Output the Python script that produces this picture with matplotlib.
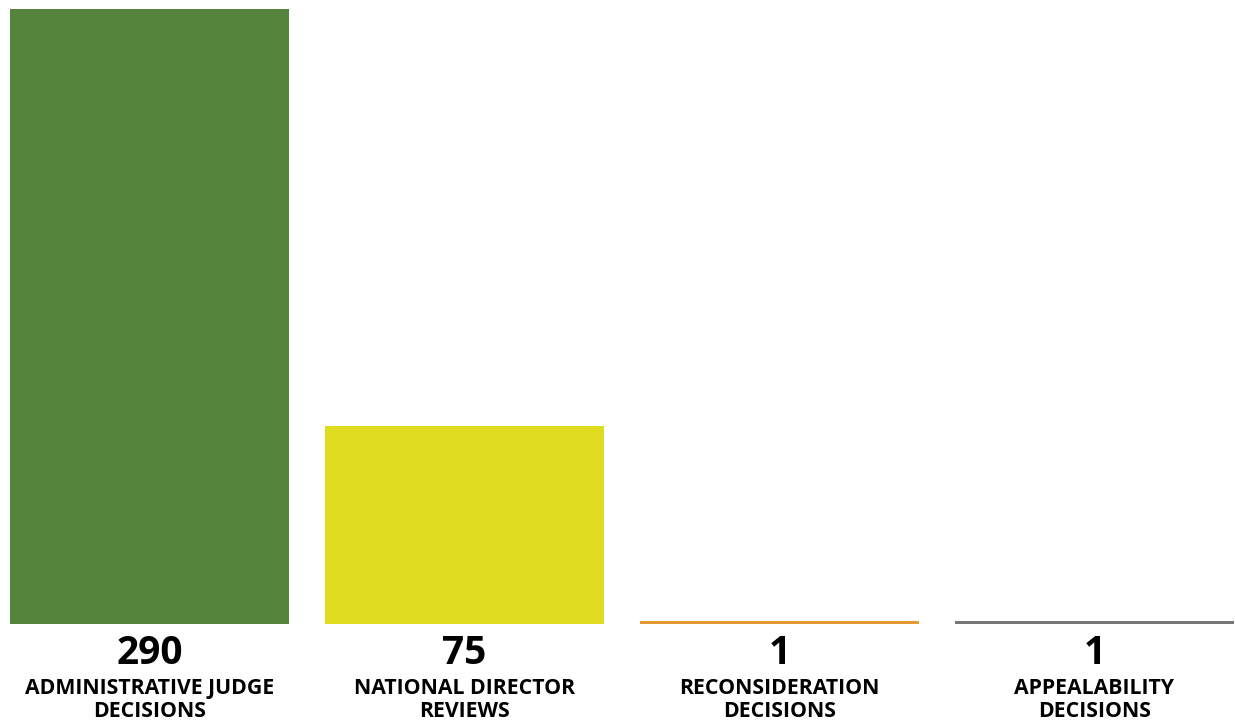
import matplotlib
matplotlib.use("Agg")
import matplotlib.pyplot as plt
import matplotlib.transforms as mtransforms

# counts shown under each bar
categories = ["ADMINISTRATIVE JUDGE\nDECISIONS", "NATIONAL DIRECTOR\nREVIEWS",
              "RECONSIDERATION\nDECISIONS", "APPEALABILITY\nDECISIONS"]
count_labels = ["290", "75", "1", "1"]
# bar heights as drawn in the picture (same scale as the 290 bar)
bar_heights = [290, 93.4, 1.4, 1.4]
colors = ["#55853d", "#dfdc20", "#e39a32", "#767676"]

plt.rcParams['font.family'] = ['Open Sans', 'DejaVu Sans']

fig = plt.figure(figsize=(12.35, 7.21), dpi=100)
ax = fig.add_axes([10 / 1235, 97 / 721, 1224 / 1235, 615 / 721])

x = list(range(len(bar_heights)))
width = 279 / 315
ax.bar(x, bar_heights, width=width, color=colors)
ax.set_xlim(-width / 2, len(x) - 1 + width / 2)
ax.set_ylim(0, 290)
ax.axis('off')

trans = mtransforms.blended_transform_factory(ax.transData, fig.transFigure)
for i in x:
    ax.text(i, 1 - 653 / 721, count_labels[i], transform=trans, ha='center', va='center',
            fontsize=28, fontweight='bold', color='black')
    ax.text(i, 1 - 700 / 721, categories[i], transform=trans, ha='center', va='center',
            fontsize=15.3, fontweight='bold', color='black', linespacing=1.1)

fig.savefig("out.png", dpi=100)
